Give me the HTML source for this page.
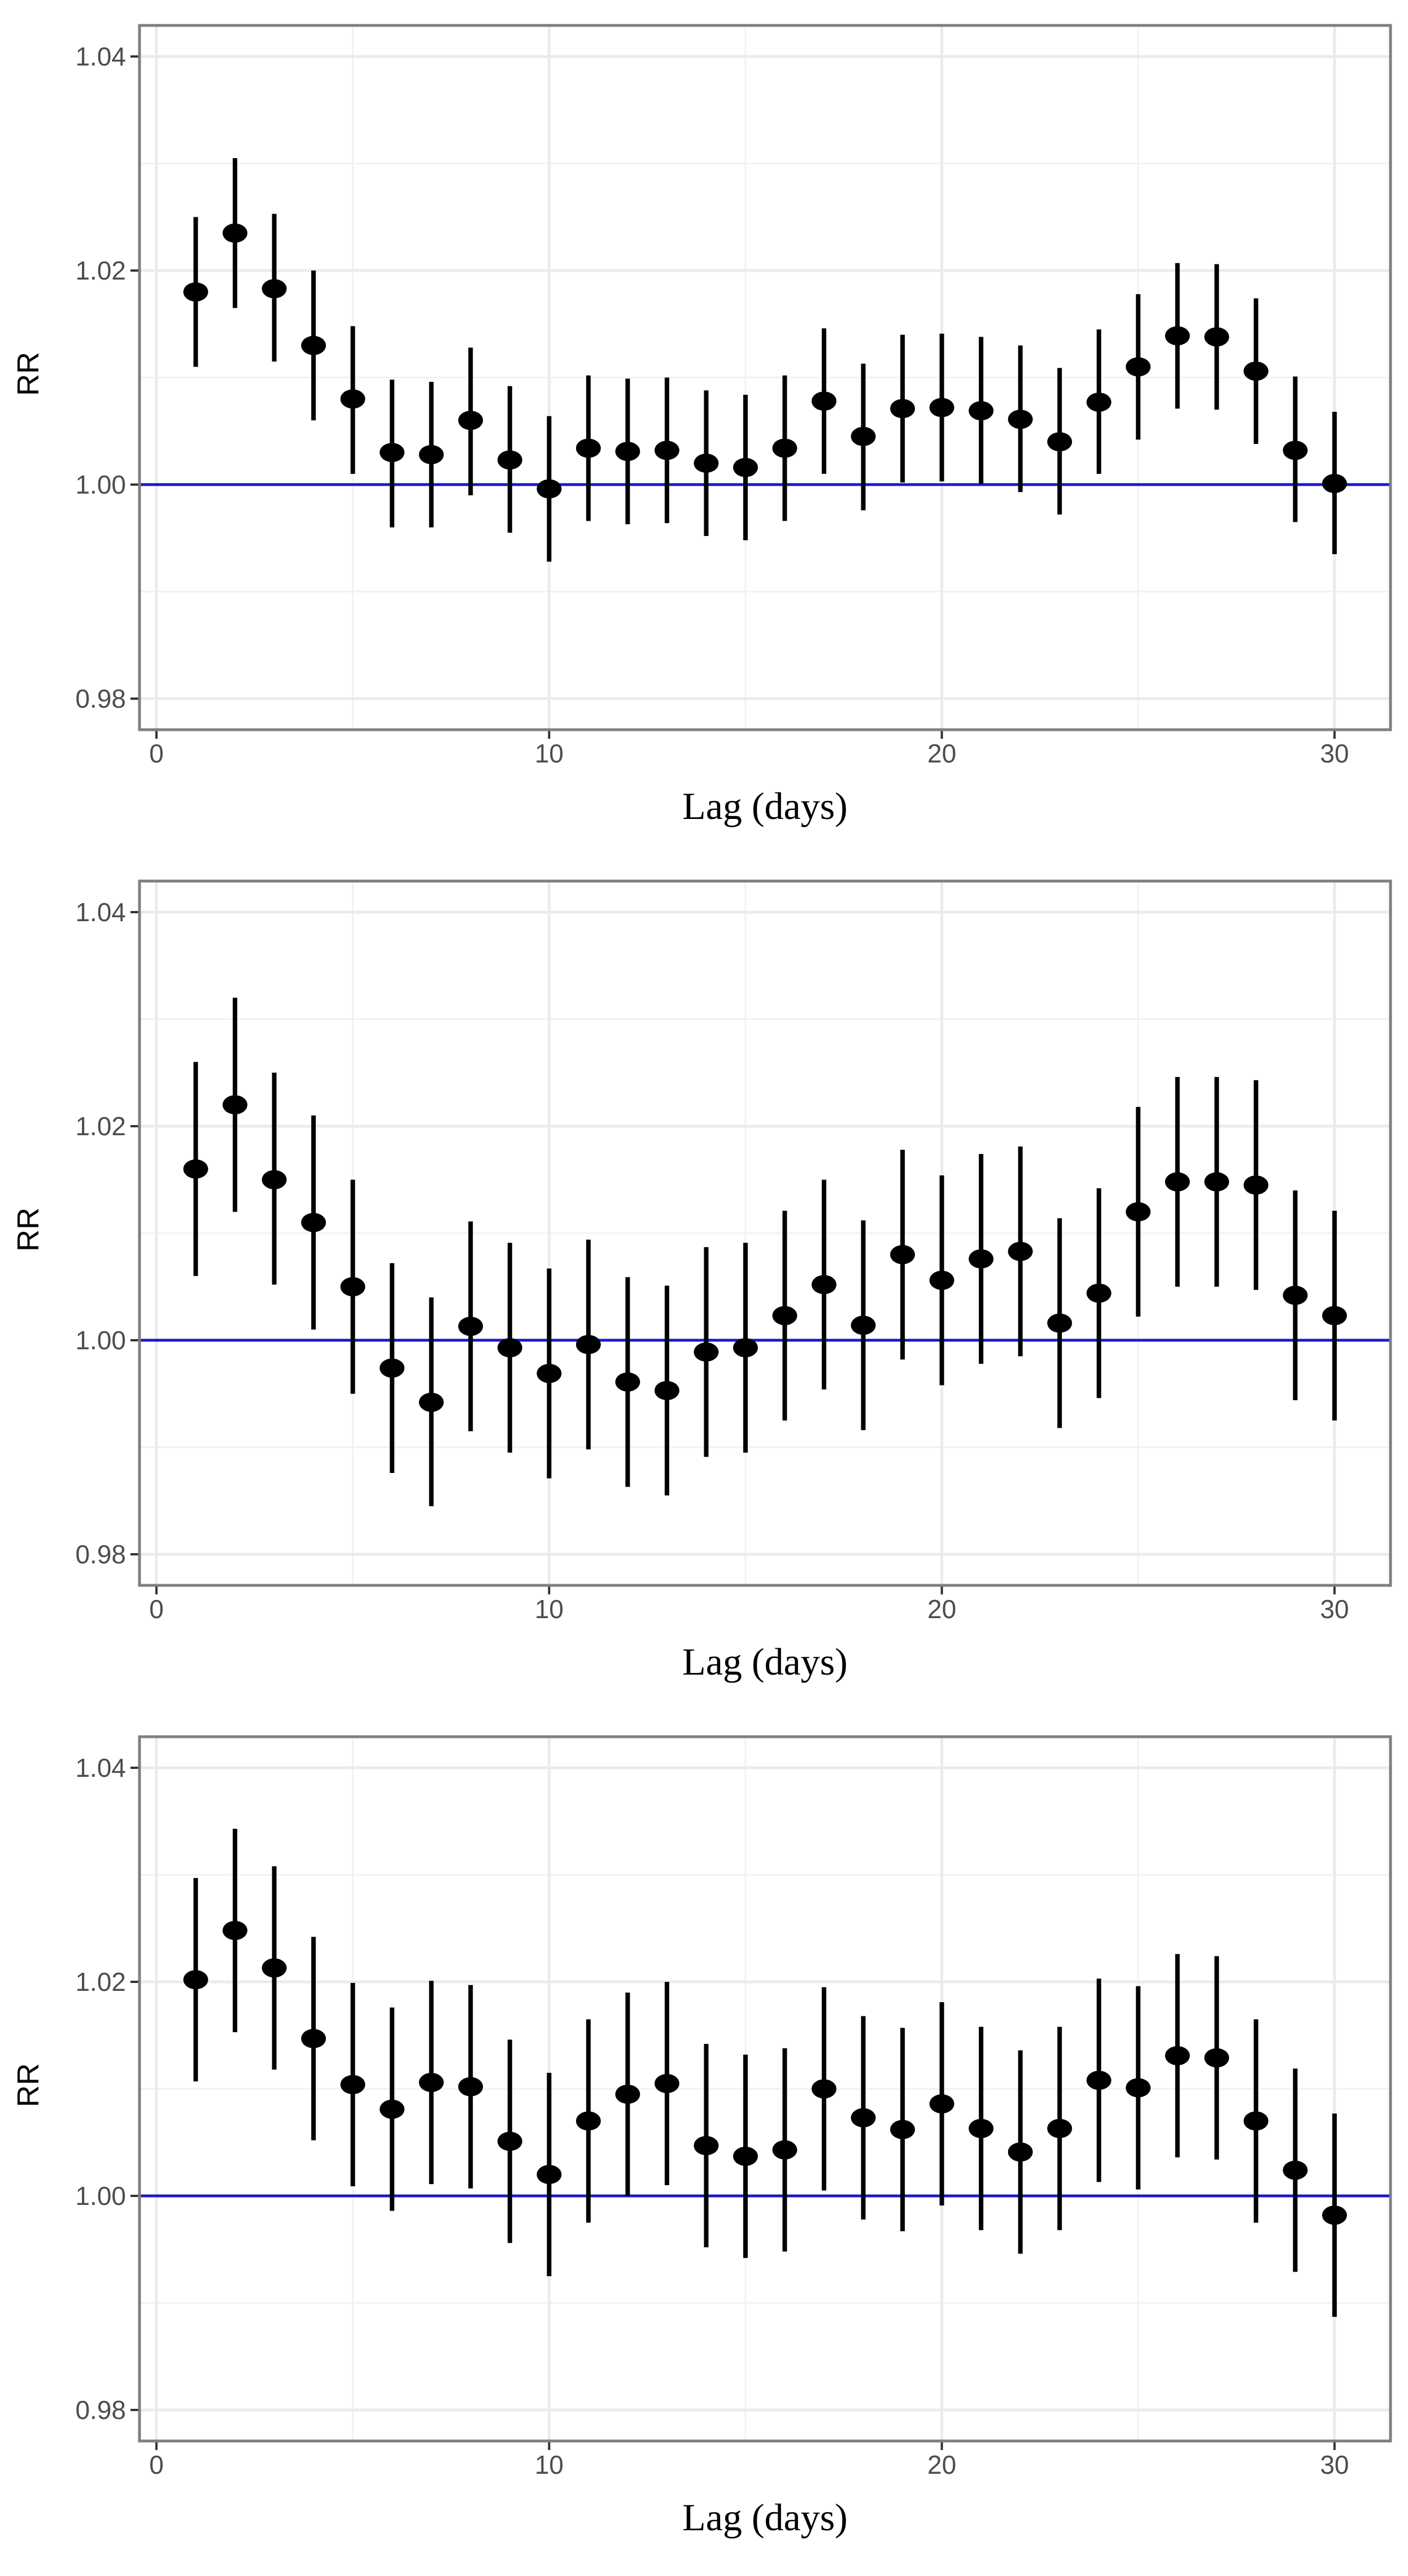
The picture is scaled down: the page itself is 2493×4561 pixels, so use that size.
<!DOCTYPE html>
<html><head><meta charset="utf-8"><style>
html,body{margin:0;padding:0;background:#fff;}
svg{display:block;}
</style></head><body>
<svg id="chart" width="2493" height="4561" viewBox="0 0 2493 4561" xmlns="http://www.w3.org/2000/svg"></svg>
<script>
const lags = [1,2,3,4,5,6,7,8,9,10,11,12,13,14,15,16,17,18,19,20,21,22,23,24,25,26,27,28,29,30];
const xTicks = [0,10,20,30];
const yTicks = [0.98,1.00,1.02,1.04];
const yTickLabels = ["0.98","1.00","1.02","1.04"];
const rr1 = [1.018,1.0235,1.0183,1.013,1.008,1.003,1.0028,1.006,1.0023,0.9996,1.0034,1.0031,1.0032,1.002,1.0016,1.0034,1.0078,1.0045,1.0071,1.0072,1.0069,1.0061,1.004,1.0077,1.011,1.0139,1.0138,1.0106,1.0032,1.0001];
const lo1 = [1.011,1.0165,1.0115,1.006,1.001,0.996,0.996,0.999,0.9955,0.9928,0.9966,0.9963,0.9964,0.9952,0.9948,0.9966,1.001,0.9976,1.0002,1.0003,1.0001,0.9993,0.9972,1.001,1.0042,1.0071,1.007,1.0038,0.9965,0.9935];
const hi1 = [1.025,1.0305,1.0253,1.020,1.0148,1.0098,1.0096,1.0128,1.0092,1.0064,1.0102,1.0099,1.0100,1.0088,1.0084,1.0102,1.0146,1.0113,1.014,1.0141,1.0138,1.013,1.0109,1.0145,1.0178,1.0207,1.0206,1.0174,1.0101,1.0068];
const rr2 = [1.016,1.022,1.015,1.011,1.005,0.9974,0.9942,1.0013,0.9993,0.9969,0.9996,0.9961,0.9953,0.9989,0.9993,1.0023,1.0052,1.0014,1.008,1.0056,1.0076,1.0083,1.0016,1.0044,1.012,1.0148,1.0148,1.0145,1.0042,1.0023];
const lo2 = [1.006,1.012,1.0052,1.001,0.995,0.9876,0.9845,0.9915,0.9895,0.9871,0.9898,0.9863,0.9855,0.9891,0.9895,0.9925,0.9954,0.9916,0.9982,0.9958,0.9978,0.9985,0.9918,0.9946,1.0022,1.005,1.005,1.0047,0.9944,0.9925];
const hi2 = [1.026,1.032,1.025,1.021,1.015,1.0072,1.004,1.0111,1.0091,1.0067,1.0094,1.0059,1.0051,1.0087,1.0091,1.0121,1.015,1.0112,1.0178,1.0154,1.0174,1.0181,1.0114,1.0142,1.0218,1.0246,1.0246,1.0243,1.014,1.0121];
const rr3 = [1.0202,1.0248,1.0213,1.0147,1.0104,1.0081,1.0106,1.0102,1.0051,1.002,1.007,1.0095,1.0105,1.0047,1.0037,1.0043,1.01,1.0073,1.0062,1.0086,1.0063,1.0041,1.0063,1.0108,1.0101,1.0131,1.0129,1.007,1.0024,0.9982];
const lo3 = [1.0107,1.0153,1.0118,1.0052,1.0009,0.9986,1.0011,1.0007,0.9956,0.9925,0.9975,1.0000,1.0010,0.9952,0.9942,0.9948,1.0005,0.9978,0.9967,0.9991,0.9968,0.9946,0.9968,1.0013,1.0006,1.0036,1.0034,0.9975,0.9929,0.9887];
const hi3 = [1.0297,1.0343,1.0308,1.0242,1.0199,1.0176,1.0201,1.0197,1.0146,1.0115,1.0165,1.0190,1.0200,1.0142,1.0132,1.0138,1.0195,1.0168,1.0157,1.0181,1.0158,1.0136,1.0158,1.0203,1.0196,1.0226,1.0224,1.0165,1.0119,1.0077];

const svg = document.getElementById('chart');
const NS = 'http://www.w3.org/2000/svg';
function mk(tag, attrs, parent){
  const e = document.createElementNS(NS, tag);
  for (const k in attrs) e.setAttribute(k, attrs[k]);
  (parent||svg).appendChild(e);
  return e;
}
const L = 247, R = 2462, PT = 45, PB = 1292;
function xs(d){ return 277 + d * 69.53; }
function ysFor(off){ return v => off + 858 - (v - 1.0) * 18950; }

const panels = [[rr1,lo1,hi1],[rr2,lo2,hi2],[rr3,lo3,hi3]];
panels.forEach((p, k) => {
  const off = k * 1515;
  const ys = ysFor(off);
  const g = mk('g', {});
  
  
  const bg = mk('rect', {x:L, y:off+PT, width:R-L, height:PB-PT, fill:'#fff'}, g);
  
  
  for (let i = 0; i < yTicks.length - 1; i++) {
    const v = (yTicks[i] + yTicks[i+1]) / 2;
    const l = mk('line', {x1:L, x2:R, y1:ys(v), y2:ys(v), stroke:'#f2f2f2', 'stroke-width':3}, g);
    
    
  }
  for (let i = 0; i < xTicks.length - 1; i++) {
    const v = (xTicks[i] + xTicks[i+1]) / 2;
    const l = mk('line', {x1:xs(v), x2:xs(v), y1:off+PT, y2:off+PB, stroke:'#f2f2f2', 'stroke-width':3}, g);
    
    
  }
  yTicks.forEach((v, i) => {
    const l = mk('line', {x1:L, x2:R, y1:ys(v), y2:ys(v), stroke:'#ebebeb', 'stroke-width':5}, g);
    
    
    const t = mk('line', {x1:L-16, x2:L, y1:ys(v), y2:ys(v), stroke:'#333', 'stroke-width':4}, g);
    
    
    const tx = mk('text', {x:L-24, y:ys(v)+16, 'text-anchor':'end', 'font-family':'Liberation Sans, sans-serif', 'font-size':46, fill:'#4d4d4d'}, g);
    tx.textContent = yTickLabels[i];
    
    
  });
  xTicks.forEach(v => {
    const l = mk('line', {x1:xs(v), x2:xs(v), y1:off+PT, y2:off+PB, stroke:'#ebebeb', 'stroke-width':5}, g);
    
    
    const t = mk('line', {x1:xs(v), x2:xs(v), y1:off+PB, y2:off+PB+16, stroke:'#333', 'stroke-width':4}, g);
    
    
    const tx = mk('text', {x:xs(v), y:off+1350, 'text-anchor':'middle', 'font-family':'Liberation Sans, sans-serif', 'font-size':46, fill:'#4d4d4d'}, g);
    tx.textContent = String(v);
    
    
  });
  const ref = mk('line', {x1:L, x2:R, y1:ys(1.0), y2:ys(1.0), stroke:'#1a1acc', 'stroke-width':5}, g);
  
  
  const [rr, lo, hi] = p;
  lags.forEach((d, i) => {
    const eb = mk('line', {x1:xs(d), x2:xs(d), y1:ys(lo[i]), y2:ys(hi[i]), stroke:'#000', 'stroke-width':8}, g);
    
    
    const pt = mk('ellipse', {cx:xs(d), cy:ys(rr[i]), rx:22, ry:17, fill:'#000'}, g);
    
    
  });
  const bd = mk('rect', {x:L, y:off+PT, width:R-L, height:PB-PT, fill:'none', stroke:'#7f7f7f', 'stroke-width':5}, g);
  
  
  const xt = mk('text', {x:(L+R)/2, y:off+1450, 'text-anchor':'middle', 'font-family':'Liberation Serif, serif', 'font-size':68, fill:'#000'}, g);
  xt.textContent = 'Lag (days)';
  
  
  const cy = off + 662;
  const yt = mk('text', {x:68, y:cy, 'text-anchor':'middle', 'font-family':'Liberation Sans, sans-serif', 'font-size':54, fill:'#000', transform:'rotate(-90 68 ' + cy + ')'}, g);
  yt.textContent = 'RR';
  
  
});
</script>
</body></html>
